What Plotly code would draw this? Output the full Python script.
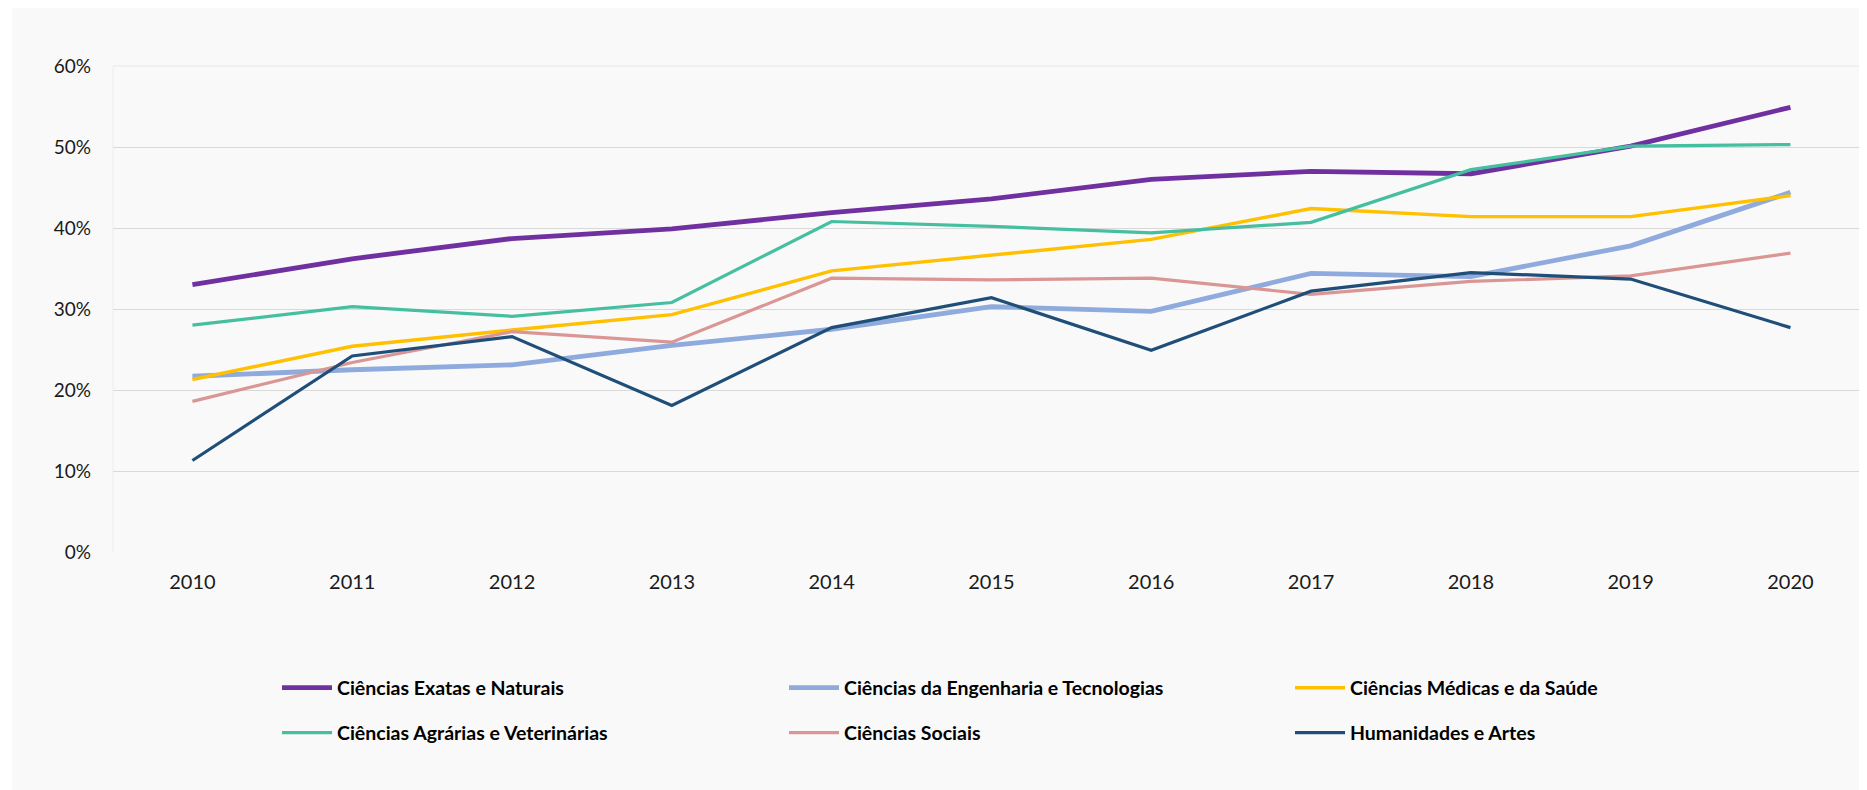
import plotly.graph_objects as go

years = [2010, 2011, 2012, 2013, 2014, 2015, 2016, 2017, 2018, 2019, 2020]

exatas = [0.330, 0.362, 0.387, 0.399, 0.419, 0.436, 0.460, 0.470, 0.467, 0.501, 0.549]
engenharia = [0.217, 0.225, 0.231, 0.255, 0.275, 0.303, 0.297, 0.344, 0.340, 0.378, 0.444]
medicas = [0.213, 0.254, 0.274, 0.293, 0.347, 0.366, 0.386, 0.424, 0.414, 0.414, 0.440]
agrarias = [0.280, 0.303, 0.291, 0.308, 0.408, 0.402, 0.394, 0.407, 0.472, 0.501, 0.503]
sociais = [0.186, 0.234, 0.272, 0.259, 0.338, 0.336, 0.338, 0.318, 0.334, 0.341, 0.369]
humanidades = [0.113, 0.242, 0.266, 0.181, 0.277, 0.314, 0.249, 0.322, 0.345, 0.337, 0.277]

names = [
    "Ciências Exatas e Naturais",
    "Ciências da Engenharia e Tecnologias",
    "Ciências Médicas e da Saúde",
    "Ciências Agrárias e Veterinárias",
    "Ciências Sociais",
    "Humanidades e Artes",
]
series = [exatas, engenharia, medicas, agrarias, sociais, humanidades]
colors = ["#7030A0", "#8FAADC", "#FFC000", "#45BFA0", "#DA9694", "#1F4E79"]
widths = [4.8, 4.8, 3.4, 3.2, 3.2, 3.2]

yticks = [0, 0.1, 0.2, 0.3, 0.4, 0.5, 0.6]
ytext = ["0%", "10%", "20%", "30%", "40%", "50%", "60%"]

OFF = 8  # page body margin of the written html
W, H = 1867 - OFF, 790 - OFF
L, R, T = 113 - OFF, 0, 66 - OFF
B = H - (552 - OFF)
pw, ph = W - L - R, H - T - B


def px_x(p):  # page pixel -> paper x
    return (p - OFF - L) / pw


def px_y(p):  # page pixel -> paper y
    return (H - B - (p - OFF)) / ph


# legend entry anchor positions (page pixels): 3 columns x 2 rows
leg_x = [283, 790, 1296, 283, 790, 1296]
leg_y = [688, 688, 688, 733, 733, 733]
legend_ids = ["legend", "legend2", "legend3", "legend4", "legend5", "legend6"]

fig = go.Figure()
for n, s, c, w, lg in zip(names, series, colors, widths, legend_ids):
    fig.add_trace(go.Scatter(x=years, y=s, name=n, mode="lines",
                             line=dict(color=c, width=w), legend=lg))

leg_layout = {}
for lg, lx, ly in zip(legend_ids, leg_x, leg_y):
    leg_layout[lg] = dict(
        orientation="h", bgcolor="rgba(0,0,0,0)", xanchor="left", yanchor="middle",
        x=px_x(lx - 6), y=px_y(ly), itemwidth=50,
        font=dict(family="Lato", size=19.5, color="#000000", weight="bold"),
        itemclick=False, itemdoubleclick=False)

fig.update_layout(
    width=W, height=H,
    margin=dict(l=L, r=R, t=T, b=B, autoexpand=False),
    paper_bgcolor="#FFFFFF",
    plot_bgcolor="rgba(0,0,0,0)",
    font=dict(family="Lato", size=19, color="#1A1A1A"),
    showlegend=True,
    xaxis=dict(range=[2009.503, 2020.479], tickmode="array", tickvals=years,
               ticktext=[str(y) for y in years], showgrid=False, zeroline=False,
               showline=False, ticks="", ticklabelstandoff=16,
               tickfont=dict(size=20)),
    yaxis=dict(range=[0, 0.6], tickmode="array", tickvals=yticks, ticktext=ytext,
               showgrid=True, gridcolor="#D9D9D9", gridwidth=1.3, zeroline=False,
               showline=False, ticks="", ticklabelstandoff=21),
    shapes=[
        dict(type="rect", xref="paper", yref="paper", x0=px_x(12), x1=1.01,
             y0=-0.6, y1=1.3, fillcolor="#F9F9F9", line=dict(width=0),
             layer="below"),
        dict(type="line", xref="paper", yref="paper", x0=0, x1=1,
             y0=1, y1=1, line=dict(color="#F0F0F0", width=2), layer="above"),
        dict(type="line", xref="paper", yref="paper", x0=0, x1=0,
             y0=0, y1=1, line=dict(color="#F0F0F0", width=1.5), layer="below"),
    ],
    **leg_layout,
)

fig.write_html("out.html")
